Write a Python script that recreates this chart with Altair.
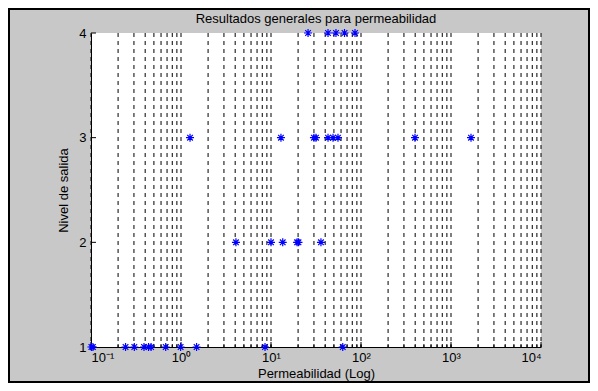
import altair as alt
import pandas as pd

# ---- data ----
level1_x = [0.101, 0.105, 0.242, 0.303, 0.388, 0.436, 0.465, 0.676, 0.99, 1.49, 8.58, 62.7]
level2_x = [4.08, 10.0, 13.5, 19.5, 20.2, 35.9]
level3_x = [1.26, 12.9, 30.0, 31.6, 43.0, 48.9, 55.5, 398.0, 1668.0]
level4_x = [25.8, 43.0, 52.7, 65.6, 85.8]

tick_values = [round(k * 10.0 ** d, 6) for d in range(-1, 4) for k in range(1, 10)] + [10000.0]
major_values = [0.1, 1.0, 10.0, 100.0, 1000.0, 10000.0]
major_labels = ["10⁻¹", "10⁰", "10¹", "10²", "10³", "10⁴"]
y_levels = [1, 2, 3, 4]
title_text = "Resultados generales para permeabilidad"

rows = []
for lvl, xs in zip(y_levels, [level1_x, level2_x, level3_x, level4_x]):
    for v in xs:
        rows.append({"perm": v, "nivel": lvl})
points_df = pd.DataFrame(rows)
ticks_df = pd.DataFrame({"perm": tick_values})
major_df = pd.DataFrame({"perm": major_values})
levels_df = pd.DataFrame({"nivel": y_levels})
title_df = pd.DataFrame({"t": [title_text]})

W, H = 450, 314
PAD = {"left": 83, "top": 25, "right": 49, "bottom": 36}
FONT = "Liberation Sans"

xscale = alt.Scale(type="log", domain=[0.1, 10000], nice=False)
yscale = alt.Scale(domain=[1, 4], nice=False, zero=False)

label_expr = " : ".join(
    f"datum.value < {v * 3} ? '{l}'" for v, l in zip(major_values[:-1], major_labels[:-1])
) + f" : '{major_labels[-1]}'"

xaxis = alt.Axis(
    title="Permeabilidad (Log)",
    values=major_values,
    labelExpr=label_expr,
    ticks=False,
    tickSize=0,
    grid=False,
    domainColor="black",
    labelPadding=4,
    titlePadding=3,
)
yaxis = alt.Axis(
    title="Nivel de salida",
    values=y_levels,
    format="d",
    ticks=False,
    tickSize=0,
    grid=False,
    domainColor="black",
    labelPadding=5,
    titlePadding=8,
)

X = alt.X("perm:Q", scale=xscale, axis=xaxis)
Y = alt.Y("nivel:Q", scale=yscale, axis=yaxis)

grid = alt.Chart(ticks_df).mark_rule(
    color="black", strokeWidth=1, strokeDash=[4, 4]
).encode(x=X)

xticks = alt.Chart(ticks_df).mark_rule(color="black", strokeWidth=1).encode(
    x=X, y=alt.value(H), y2=alt.value(H - 3)
)
xmajor = alt.Chart(major_df).mark_rule(color="black", strokeWidth=1).encode(
    x=X, y=alt.value(H), y2=alt.value(H - 5)
)
yticks = alt.Chart(levels_df).mark_rule(color="black", strokeWidth=1).encode(
    y=Y, x=alt.value(0), x2=alt.value(5)
)

star = "M-1,0L1,0M0,-1L0,1M-0.7,-0.7L0.7,0.7M-0.7,0.7L0.7,-0.7"
pts = alt.Chart(points_df).mark_point(
    shape=star, filled=False, color="#0000ff", strokeWidth=1.2, size=64, opacity=1
).encode(x=X, y=Y)

title = alt.Chart(title_df).mark_text(
    font=FONT, fontSize=13, color="black", align="center", baseline="middle"
).encode(text="t:N", x=alt.value(W / 2), y=alt.value(-14))

frame = alt.Chart(levels_df).mark_rect(
    filled=False, stroke="black", strokeWidth=2, clip=False
).encode(
    x=alt.value(-PAD["left"] + 1),
    x2=alt.value(W + PAD["right"] - 1),
    y=alt.value(-PAD["top"] + 1),
    y2=alt.value(H + PAD["bottom"] - 1),
)

chart = (
    alt.layer(grid, xticks, xmajor, yticks, pts, title, frame)
    .properties(
        width=W,
        height=H,
        padding=PAD,
        autosize=alt.AutoSizeParams(type="none"),
        background="#c8c8c8",
    )
    .configure_view(fill="white", stroke=None)
    .configure_axis(
        labelFont=FONT,
        titleFont=FONT,
        labelFontSize=13,
        titleFontSize=13,
        labelColor="black",
        titleColor="black",
        titleFontWeight="normal",
        domainWidth=1,
    )
)

chart.save("out.html", embed_options={"renderer": "svg", "actions": False})
